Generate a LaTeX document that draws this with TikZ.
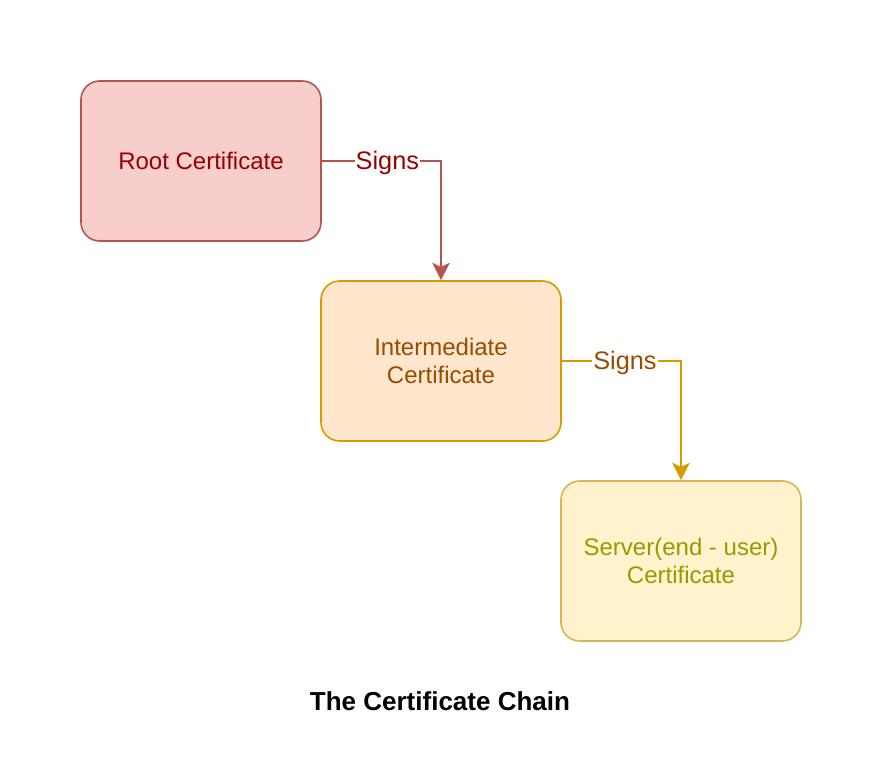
\documentclass[tikz,border=0pt]{standalone}
\usepackage{fontspec}
\setmainfont{Liberation Sans}
\usetikzlibrary{arrows.meta}

\begin{document}
\begin{tikzpicture}[x=0.75pt, y=-0.75pt]
    \definecolor{rootFill}{HTML}{F8CECC}
    \definecolor{rootBorder}{HTML}{B85450}
    \definecolor{rootText}{HTML}{990000}
    \definecolor{interFill}{HTML}{FFE6CC}
    \definecolor{interBorder}{HTML}{D79B00}
    \definecolor{interText}{HTML}{994C00}
    \definecolor{serverFill}{HTML}{FFF2CC}
    \definecolor{serverBorder}{HTML}{D6B656}
    \definecolor{serverText}{HTML}{999900}

    \tikzset{
        certBox/.style={draw, line width=1.2pt, rounded corners=14pt,
            minimum width=180pt, minimum height=120pt,
            align=center, font=\fontsize{18}{21}\selectfont},
        signEdge/.style={line width=1.2pt,
            -{Stealth[length=13pt, width=13pt, inset=3pt]}},
        signLabel/.style={fill=white, inner sep=0.8pt,
            font=\fontsize{19}{21}\selectfont}
    }

    \useasboundingbox (0,0) rectangle (882,782);

    % The three certificates
    \node[certBox, fill=rootFill, draw=rootBorder, text=rootText] (root) at (201,161) {Root Certificate};
    \node[certBox, fill=interFill, draw=interBorder, text=interText] (inter) at (441,361) {Intermediate\\Certificate};
    \node[certBox, fill=serverFill, draw=serverBorder, text=serverText] (server) at (681,561) {Server(end - user)\\Certificate};

    % Signing edges
    \draw[signEdge, rootBorder] (root.east) -| node[signLabel, pos=0.275, yshift=-1.5pt, text=rootText] (signA) {Signs} (inter.north);
    \draw[signEdge, interBorder] (inter.east) -| node[signLabel, pos=0.265, yshift=-1.5pt, text=interText] (signB) {Signs} (server.north);

    % Caption
    \node[font=\bfseries\fontsize{19.5}{21}\selectfont] (title) at (440,701) {The Certificate Chain};

\end{tikzpicture}
\end{document}
